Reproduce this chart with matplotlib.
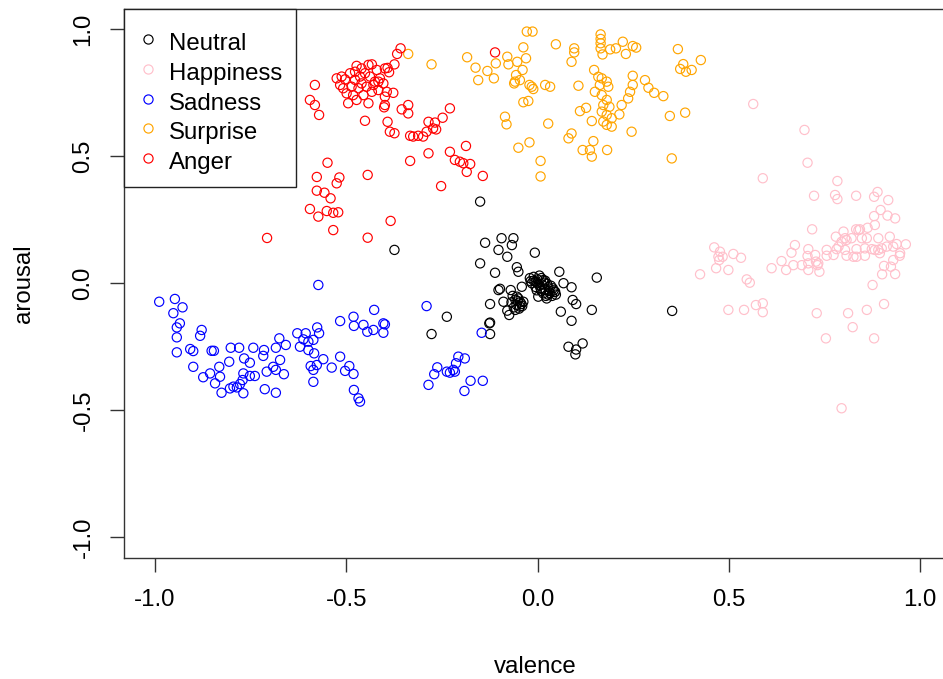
import matplotlib
matplotlib.use("Agg")
import matplotlib.pyplot as plt
from matplotlib.patches import Rectangle
from matplotlib.lines import Line2D

plt.rcParams['font.family'] = ['Liberation Sans', 'DejaVu Sans']
plt.rcParams['axes.unicode_minus'] = False

categories = ["Neutral", "Happiness", "Sadness", "Surprise", "Anger"]
colors = ["black", "pink", "blue", "orange", "red"]

neutral_x = [-0.150, -0.374, -0.237, -0.277, -0.126, -0.124, 0.081, 0.101, 0.118, 0.099, 0.352,
             -0.137, -0.094, -0.063, -0.067, -0.102, -0.079, -0.007, -0.150, -0.111, -0.054, -0.050,
             0.057, 0.155, -0.102, -0.098, -0.070, -0.041, -0.124, -0.089, -0.079, -0.074, 0.068,
             0.089, 0.092, 0.101, 0.061, 0.089, 0.142, -0.124, 0.002, 0.024, 0.046, -0.037, -0.046,
             -0.054,
             -0.020, -0.010, 0.000, 0.010, 0.020, -0.015, 0.000, 0.012, 0.025, 0.035, -0.005, 0.008,
             0.020, 0.030, 0.040, 0.045, 0.015, 0.028, 0.038, -0.010, 0.005,
             -0.018, -0.005, 0.005, 0.018, 0.028, 0.042, 0.032, 0.022, 0.010, -0.002, 0.048, 0.015,
             -0.065, -0.058, -0.050, -0.045, -0.055, -0.040, -0.062, -0.048,
             -0.068, -0.052, -0.042, -0.058]
neutral_y = [0.321, 0.131, -0.132, -0.200, -0.158, -0.200, -0.250, -0.261, -0.237, -0.280, -0.109,
             0.159, 0.177, 0.177, 0.150, 0.131, 0.104, 0.120, 0.078, 0.041, 0.063, 0.045,
             0.045, 0.022, -0.027, -0.022, -0.027, -0.014, -0.082, -0.073, -0.108, -0.125, 0.000,
             -0.016, -0.066, -0.082, -0.112, -0.148, -0.105, -0.155, -0.053, -0.060, -0.033, -0.073,
             -0.092, -0.053,
             0.020, 0.025, 0.015, 0.020, 0.010, 0.000, 0.000, -0.005, -0.002, -0.010, -0.015, -0.020,
             -0.025, -0.030, -0.020, -0.035, -0.040, -0.045, -0.050, 0.010, 0.030,
             0.008, 0.005, -0.008, 0.002, -0.015, -0.028, -0.038, -0.050, -0.030, -0.028, -0.045, 0.012,
             -0.050, -0.065, -0.060, -0.075, -0.085, -0.090, -0.095, -0.100,
             -0.075, -0.070, -0.082, -0.105]

happiness_x = [0.564, 0.698, 0.706, 0.589, 0.784, 0.723, 0.778, 0.784, 0.833, 0.889, 0.880, 0.917,
               0.897, 0.880, 0.915, 0.935, 0.718, 0.882, 0.863, 0.833, 0.843, 0.780, 0.800, 0.808,
               0.804, 0.821, 0.848, 0.861, 0.891, 0.921, 0.939, 0.963, 0.948, 0.947, 0.900, 0.891,
               0.882, 0.856, 0.856, 0.834, 0.826, 0.808, 0.782, 0.774, 0.756, 0.756, 0.726, 0.708,
               0.706, 0.728, 0.734, 0.708, 0.737, 0.669, 0.673, 0.664, 0.638, 0.650, 0.612, 0.532,
               0.512, 0.477, 0.462, 0.473, 0.467, 0.499, 0.425, 0.547, 0.555, 0.906, 0.924, 0.935,
               0.901, 0.876, 0.906, 0.861, 0.812, 0.730, 0.824, 0.754, 0.880, 0.589, 0.571, 0.589,
               0.540, 0.499, 0.795, 0.787, 0.804, 0.839, 0.874, 0.895, 0.913, 0.930, 0.930, 0.795,
               0.834, 0.475, 0.484, 0.691, 0.708, 0.732]
happiness_y = [0.705, 0.603, 0.474, 0.413, 0.402, 0.344, 0.347, 0.331, 0.344, 0.359, 0.340, 0.327,
               0.288, 0.264, 0.266, 0.255, 0.212, 0.229, 0.218, 0.212, 0.212, 0.183, 0.203, 0.170,
               0.177, 0.177, 0.177, 0.177, 0.177, 0.183, 0.154, 0.153, 0.118, 0.108, 0.137, 0.131,
               0.131, 0.137, 0.108, 0.134, 0.104, 0.108, 0.134, 0.111, 0.131, 0.108, 0.111, 0.134,
               0.107, 0.085, 0.078, 0.052, 0.045, 0.071, 0.150, 0.120, 0.087, 0.052, 0.059, 0.100,
               0.115, 0.124, 0.141, 0.104, 0.059, 0.052, 0.035, 0.015, 0.002, 0.068, 0.065, 0.036,
               0.035, -0.007, -0.082, -0.105, -0.118, -0.118, -0.173, -0.217, -0.217, -0.079, -0.086, -0.114,
               -0.105, -0.105, -0.492, 0.144, 0.131, 0.209, 0.134, 0.118, 0.144, 0.144, 0.091, 0.163,
               0.104, 0.091, 0.104, 0.071, 0.078, 0.071]

sadness_x = [-0.989, -0.948, -0.928, -0.952, -0.935, -0.943, -0.943, -0.943, -0.878, -0.882, -0.908,
             -0.900, -0.852, -0.846, -0.900, -0.874, -0.856, -0.830, -0.832, -0.843, -0.826, -0.806,
             -0.802, -0.780, -0.767, -0.752, -0.743, -0.769, -0.752, -0.739, -0.778, -0.786, -0.795,
             -0.769, -0.771, -0.804, -0.715, -0.717, -0.684, -0.675, -0.658, -0.673, -0.691, -0.708,
             -0.684, -0.663, -0.713, -0.684, -0.628, -0.606, -0.576, -0.571, -0.612, -0.599, -0.586,
             -0.621, -0.599, -0.584, -0.560, -0.538, -0.593, -0.577, -0.586, -0.586, -0.573, -0.516,
             -0.516, -0.481, -0.480, -0.455, -0.445, -0.429, -0.427, -0.403, -0.399, -0.403, -0.492,
             -0.503, -0.481, -0.480, -0.468, -0.464, -0.290, -0.262, -0.270, -0.285, -0.237, -0.229,
             -0.220, -0.213, -0.207, -0.190, -0.216, -0.175, -0.143, -0.191, -0.146]
sadness_y = [-0.073, -0.062, -0.095, -0.118, -0.158, -0.174, -0.213, -0.272, -0.184, -0.207, -0.259,
             -0.267, -0.266, -0.266, -0.329, -0.370, -0.355, -0.368, -0.329, -0.394, -0.431, -0.309,
             -0.254, -0.254, -0.296, -0.313, -0.254, -0.355, -0.365, -0.365, -0.397, -0.410, -0.407,
             -0.433, -0.381, -0.414, -0.263, -0.286, -0.254, -0.217, -0.243, -0.302, -0.329, -0.348,
             -0.341, -0.358, -0.417, -0.431, -0.197, -0.197, -0.174, -0.197, -0.221, -0.230, -0.223,
             -0.250, -0.263, -0.276, -0.299, -0.332, -0.326, -0.322, -0.341, -0.388, -0.007, -0.149,
             -0.289, -0.132, -0.168, -0.164, -0.191, -0.184, -0.105, -0.158, -0.162, -0.195, -0.326,
             -0.345, -0.357, -0.420, -0.453, -0.466, -0.090, -0.331, -0.358, -0.400, -0.348, -0.352,
             -0.341, -0.315, -0.289, -0.296, -0.348, -0.384, -0.384, -0.424, -0.195]

surprise_x = [-0.338, -0.277, -0.184, -0.162, -0.131, -0.155, -0.114, -0.109, -0.079, -0.076, -0.053,
              -0.037, -0.030, -0.028, -0.013, -0.039, -0.056, -0.059, -0.046, -0.061, -0.021, -0.015,
              -0.011, -0.037, -0.024, 0.020, 0.033, 0.048, 0.096, 0.096, 0.089, 0.107, 0.165, 0.165,
              0.165, 0.165, 0.170, 0.190, 0.205, 0.223, 0.231, 0.249, 0.258, 0.367, 0.381, 0.373,
              0.388, 0.403, 0.427, 0.148, 0.159, 0.168, 0.181, 0.163, 0.185, 0.150, 0.168, 0.181,
              0.188, 0.172, 0.168, 0.181, 0.194, 0.172, 0.181, 0.194, 0.142, 0.214, 0.220, 0.237,
              0.242, 0.249, 0.249, 0.281, 0.290, 0.305, 0.329, 0.346, 0.386, 0.246, 0.351, 0.111,
              0.127, 0.028, -0.085, -0.081, -0.050, -0.021, 0.081, 0.089, 0.118, 0.137, 0.142, 0.146,
              0.182, 0.008, 0.008]
surprise_y = [0.902, 0.861, 0.889, 0.848, 0.835, 0.799, 0.806, 0.865, 0.891, 0.861, 0.871,
              0.928, 0.885, 0.990, 0.990, 0.839, 0.819, 0.793, 0.799, 0.786, 0.780, 0.773,
              0.764, 0.712, 0.717, 0.780, 0.773, 0.940, 0.924, 0.908, 0.871, 0.777, 0.979, 0.961,
              0.944, 0.924, 0.900, 0.920, 0.924, 0.950, 0.902, 0.933, 0.927, 0.921, 0.862, 0.843,
              0.832, 0.839, 0.878, 0.839, 0.812, 0.806, 0.793, 0.780, 0.773, 0.753, 0.740, 0.721,
              0.694, 0.701, 0.675, 0.662, 0.649, 0.636, 0.623, 0.616, 0.638, 0.664, 0.701, 0.727,
              0.753, 0.780, 0.816, 0.799, 0.769, 0.749, 0.736, 0.658, 0.671, 0.596, 0.491, 0.677,
              0.690, 0.628, 0.655, 0.625, 0.533, 0.554, 0.570, 0.589, 0.524, 0.524, 0.498, 0.559,
              0.524, 0.481, 0.420]

anger_x = [-0.358, -0.367, -0.374, -0.392, -0.388, -0.399,
           -0.525, -0.512, -0.503, -0.490, -0.477, -0.473, -0.460, -0.442, -0.433, -0.420, -0.412,
           -0.425, -0.403, -0.394, -0.377, -0.399, -0.399, -0.401, -0.416, -0.433, -0.447, -0.460,
           -0.464, -0.477, -0.486, -0.499, -0.508, -0.495, -0.473, -0.442, -0.455, -0.429, -0.416,
           -0.438, -0.451, -0.468, -0.482, -0.516,
           -0.582, -0.595, -0.582, -0.571,
           -0.451, -0.392, -0.386, -0.374, -0.338, -0.355, -0.338, -0.229, -0.248, -0.285, -0.268,
           -0.273, -0.265, -0.290, -0.299, -0.312, -0.325, -0.333, -0.187, -0.229, -0.285, -0.333,
           -0.216, -0.203, -0.194, -0.176, -0.185, -0.143, -0.252,
           -0.549, -0.577, -0.518, -0.525, -0.444, -0.577, -0.557, -0.541, -0.595, -0.573, -0.551,
           -0.534, -0.521, -0.384, -0.534, -0.444, -0.707, -0.111]
anger_y = [0.924, 0.902, 0.861, 0.847, 0.830, 0.845,
           0.806, 0.813, 0.802, 0.826, 0.832, 0.855, 0.845, 0.859, 0.861, 0.839, 0.806,
           0.793, 0.786, 0.753, 0.749, 0.734, 0.701, 0.692, 0.760, 0.753, 0.773, 0.786,
           0.813, 0.800, 0.773, 0.747, 0.767, 0.708, 0.721, 0.708, 0.740, 0.780, 0.793,
           0.813, 0.826, 0.767, 0.740, 0.780,
           0.780, 0.721, 0.701, 0.662,
           0.639, 0.635, 0.596, 0.590, 0.701, 0.684, 0.668, 0.688, 0.651, 0.635, 0.632,
           0.609, 0.605, 0.596, 0.577, 0.580, 0.577, 0.580, 0.540, 0.517, 0.511, 0.481,
           0.485, 0.478, 0.472, 0.469, 0.438, 0.422, 0.382,
           0.474, 0.418, 0.416, 0.393, 0.426, 0.364, 0.356, 0.334, 0.292, 0.262, 0.284,
           0.277, 0.279, 0.245, 0.209, 0.179, 0.178, 0.908]

series_x = [neutral_x, happiness_x, sadness_x, surprise_x, anger_x]
series_y = [neutral_y, happiness_y, sadness_y, surprise_y, anger_y]

tick_values = [-1.0, -0.5, 0.0, 0.5, 1.0]
tick_labels = ["-1.0", "-0.5", "0.0", "0.5", "1.0"]

W, H = 943, 679
FS = 17.3
fig = plt.figure(figsize=(W / 100, H / 100), dpi=100)
ax = fig.add_axes([124.4 / W, (H - 557.7) / H, 826.2 / W, 549.0 / H])

for xs, ys, c in zip(series_x, series_y, colors):
    ax.scatter(xs, ys, s=44, facecolors='none', edgecolors=c, linewidths=0.85, zorder=3)

ax.set_xlim(-1.08, 1.08)
ax.set_ylim(-1.08, 1.08)
ax.set_xticks(tick_values)
ax.set_xticklabels(tick_labels)
ax.set_yticks(tick_values)
ax.set_yticklabels(tick_labels, rotation=90, va='center')
ax.tick_params(axis='both', direction='out', length=10, width=1.0, color='#333333',
               labelsize=FS, labelcolor='black')
ax.tick_params(axis='x', pad=12.6)
ax.tick_params(axis='y', pad=11.5)
for sp in ax.spines.values():
    sp.set_color('#333333')
    sp.set_linewidth(1.0)

fig.text(535 / W, 1 - 673 / H, "valence", ha='center', va='baseline', fontsize=FS)
fig.text(30 / W, 1 - 284 / H, "arousal", rotation=90, rotation_mode='anchor',
         ha='center', va='baseline', fontsize=FS)

# legend box (pixel positions converted to figure fractions)
def fx(px):
    return px / W

def fy(py):
    return 1 - py / H

fig.patches.append(Rectangle((fx(124.4), fy(187)), fx(296) - fx(124.4), fy(8.7) - fy(187),
                             transform=fig.transFigure, facecolor='white', edgecolor='#222222',
                             linewidth=1.0, zorder=5))
marker_rows = [39.3, 69.0, 99.0, 128.3, 157.7]
for i, (lab, c) in enumerate(zip(categories, colors)):
    my = marker_rows[i]
    fig.lines.append(Line2D([fx(148)], [fy(my)], transform=fig.transFigure, marker='o',
                            markersize=6.6, markerfacecolor='none', markeredgecolor=c,
                            markeredgewidth=0.85, linestyle='none', zorder=6))
    fig.text(fx(169), fy(my + 10.8), lab, ha='left', va='baseline', fontsize=FS, zorder=6)

fig.savefig("out.png", dpi=100)
